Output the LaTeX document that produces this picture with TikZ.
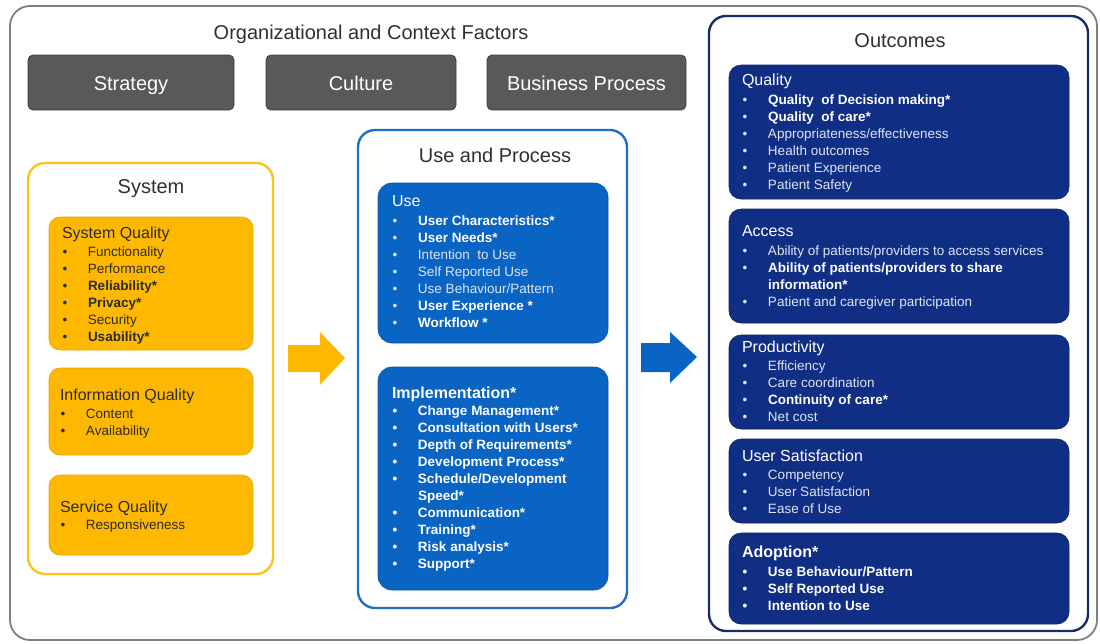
\documentclass[tikz,border=0pt]{standalone}
\usepackage{fontspec}
\setmainfont{Liberation Sans}

\definecolor{framegray}{HTML}{7F7F7F}
\definecolor{factorfill}{HTML}{595959}
\definecolor{factorline}{HTML}{3F3F3F}
\definecolor{titlegray}{HTML}{303030}
\definecolor{amber}{HTML}{FFB800}
\definecolor{amberline}{HTML}{FFC21A}
\definecolor{amberedge}{HTML}{E8A600}
\definecolor{darktext}{HTML}{2B2B2B}
\definecolor{midblue}{HTML}{0A64C3}
\definecolor{midblueline}{HTML}{1F70C4}
\definecolor{navy}{HTML}{0F2E84}
\definecolor{navyline}{HTML}{1A2C68}
\definecolor{lighttext}{HTML}{DDE5F3}

% bullet item with a fixed text indent; the first line carries a fixed-height strut
\newcommand\bitem[1]{\makebox[26pt][l]{\hspace{0.5pt}\textbullet}#1}
\newcommand\bcont[1]{\hspace*{26pt}#1}
\newcommand\topstrut{\rule{0pt}{11pt}}

\begin{document}
\begin{tikzpicture}[x=1pt,y=-1pt,
  every node/.style={inner sep=0pt, outer sep=0pt},
  frame/.style={anchor=north west, draw=framegray, line width=1.8pt, rounded corners=20pt},
  factor/.style={anchor=north west, fill=factorfill, draw=factorline, line width=0.8pt,
    rounded corners=5pt, text=white, font=\fontsize{20}{24}\selectfont,
    text height=15pt, text depth=0pt},
  group/.style={anchor=north west, fill=white, line width=2.4pt, rounded corners=17pt},
  title/.style={anchor=base, text=titlegray, font=\fontsize{20}{24}\selectfont},
  ambbox/.style={anchor=north west, fill=amber, draw=amberedge, line width=0.6pt, rounded corners=11pt},
  bluebox/.style={anchor=north west, fill=midblue, draw=midblue!85!black, line width=0.6pt, rounded corners=14pt},
  navybox/.style={anchor=north west, fill=navy, draw=navy!80!black, line width=0.6pt, rounded corners=12pt},
  head/.style={anchor=base west, font=\fontsize{16}{19}\selectfont},
  items/.style={anchor=north west, align=left, font=\fontsize{13.5}{17.1}\selectfont},
  onamber/.style={text=darktext},
  onblue/.style={text=lighttext},
]
\useasboundingbox (0,0) rectangle (1100,643);

% outer frame
\node[frame, minimum width=1087pt, minimum height=634pt] (frame) at (10,6) {};

% organizational and context factors
\node[title] (orgtitle) at (371,39) {Organizational and Context Factors};
\node[factor, minimum width=206pt, minimum height=55pt] (strategy) at (28,55) {Strategy};
\node[factor, minimum width=190pt, minimum height=55pt] (culture) at (266,55) {Culture};
\node[factor, minimum width=199pt, minimum height=55pt] (business) at (487,55) {Business Process};

% ---------------- System ----------------
\node[group, draw=amberline, minimum width=245pt, minimum height=411pt] (system) at (28,163) {};
\node[title] (systemtitle) at (151,193) {System};

\node[ambbox, minimum width=204pt, minimum height=133pt] (sysq) at (49,217) {};
\node[head, onamber] (sysqh) at (62,238) {System Quality};
\node[items, onamber] (sysql) at (62,245) {%
  \topstrut\bitem{Functionality}\\
  \bitem{Performance}\\
  \bitem{\bfseries Reliability*}\\
  \bitem{\bfseries Privacy*}\\
  \bitem{Security}\\
  \bitem{\bfseries Usability*}};

\node[ambbox, minimum width=204pt, minimum height=87pt] (infq) at (49,368) {};
\node[head, onamber] (infqh) at (60,400) {Information Quality};
\node[items, onamber] (infql) at (60,407) {%
  \topstrut\bitem{Content}\\
  \bitem{Availability}};

\node[ambbox, minimum width=204pt, minimum height=80pt] (servq) at (49,475) {};
\node[head, onamber] (servqh) at (60,512) {Service Quality};
\node[items, onamber] (servql) at (60,518) {\topstrut\bitem{Responsiveness}};

% ---------------- Use and Process ----------------
\node[group, draw=midblueline, minimum width=269pt, minimum height=478pt] (useproc) at (358,130) {};
\node[title] (useproctitle) at (495,162) {Use and Process};

\node[bluebox, minimum width=230pt, minimum height=160pt] (use) at (378,183) {};
\node[head, text=white] (useh) at (392,206) {Use};
\node[items, onblue] (usel) at (392,214) {%
  \topstrut\bitem{\bfseries\color{white}User Characteristics*}\\
  \bitem{\bfseries\color{white}User Needs*}\\
  \bitem{Intention\ \ to Use}\\
  \bitem{Self Reported Use}\\
  \bitem{Use Behaviour/Pattern}\\
  \bitem{\bfseries\color{white}User Experience *}\\
  \bitem{\bfseries\color{white}Workflow *}};

\node[bluebox, minimum width=230pt, minimum height=223pt] (impl) at (378,367) {};
\node[head, text=white, font=\fontsize{16}{19}\selectfont\bfseries] (implh) at (392,398) {Implementation*};
\node[items, text=white, font=\fontsize{13.5}{17.1}\selectfont\bfseries] (impll) at (392,404) {%
  \topstrut\bitem{Change Management*}\\
  \bitem{Consultation with Users*}\\
  \bitem{Depth of Requirements*}\\
  \bitem{Development Process*}\\
  \bitem{Schedule/Development}\\
  \bcont{Speed*}\\
  \bitem{Communication*}\\
  \bitem{Training*}\\
  \bitem{Risk analysis*}\\
  \bitem{Support*}};

% ---------------- Outcomes ----------------
\node[group, draw=navyline, minimum width=379pt, minimum height=615pt] (outcomes) at (709,16) {};
\node[title] (outcomestitle) at (900,47) {Outcomes};

\node[navybox, minimum width=340pt, minimum height=134pt] (quality) at (729,65) {};
\node[head, text=white] (qualityh) at (742,85) {Quality};
\node[items, onblue] (qualityl) at (742,93) {%
  \topstrut\bitem{\bfseries\color{white}Quality\ \ of Decision making*}\\
  \bitem{\bfseries\color{white}Quality\ \ of care*}\\
  \bitem{Appropriateness/effectiveness}\\
  \bitem{Health outcomes}\\
  \bitem{Patient Experience}\\
  \bitem{Patient Safety}};

\node[navybox, minimum width=340pt, minimum height=114pt] (access) at (729,209) {};
\node[head, text=white] (accessh) at (742,236) {Access};
\node[items, onblue] (accessl) at (742,244) {%
  \topstrut\bitem{Ability of patients/providers to access services}\\
  \bitem{\bfseries\color{white}Ability of patients/providers to share}\\
  \bcont{\bfseries\color{white}information*}\\
  \bitem{Patient and caregiver participation}};

\node[navybox, minimum width=340pt, minimum height=94pt] (product) at (729,335) {};
\node[head, text=white] (producth) at (742,352) {Productivity};
\node[items, onblue] (productl) at (742,359) {%
  \topstrut\bitem{Efficiency}\\
  \bitem{Care coordination}\\
  \bitem{\bfseries\color{white}Continuity of care*}\\
  \bitem{Net cost}};

\node[navybox, minimum width=340pt, minimum height=84pt] (usersat) at (729,439) {};
\node[head, text=white] (usersath) at (742,461) {User Satisfaction};
\node[items, onblue] (usersatl) at (742,468) {%
  \topstrut\bitem{Competency}\\
  \bitem{User Satisfaction}\\
  \bitem{Ease of Use}};

\node[navybox, minimum width=340pt, minimum height=91pt] (adoption) at (729,533) {};
\node[head, text=white, font=\fontsize{16}{19}\selectfont\bfseries] (adoptionh) at (742,557) {Adoption*};
\node[items, text=white, font=\fontsize{13.5}{17.1}\selectfont\bfseries] (adoptionl) at (742,565) {%
  \topstrut\bitem{Use Behaviour/Pattern}\\
  \bitem{Self Reported Use}\\
  \bitem{Intention to Use}};

% block arrows between the groups
\fill[amber] (288,345) -- (320,345) -- (320,332) -- (345,358) -- (320,385) -- (320,372) -- (288,372) -- cycle;
\fill[midblue] (641,343) -- (670,343) -- (670,332) -- (697,357) -- (670,383) -- (670,372) -- (641,372) -- cycle;
\end{tikzpicture}
\end{document}
